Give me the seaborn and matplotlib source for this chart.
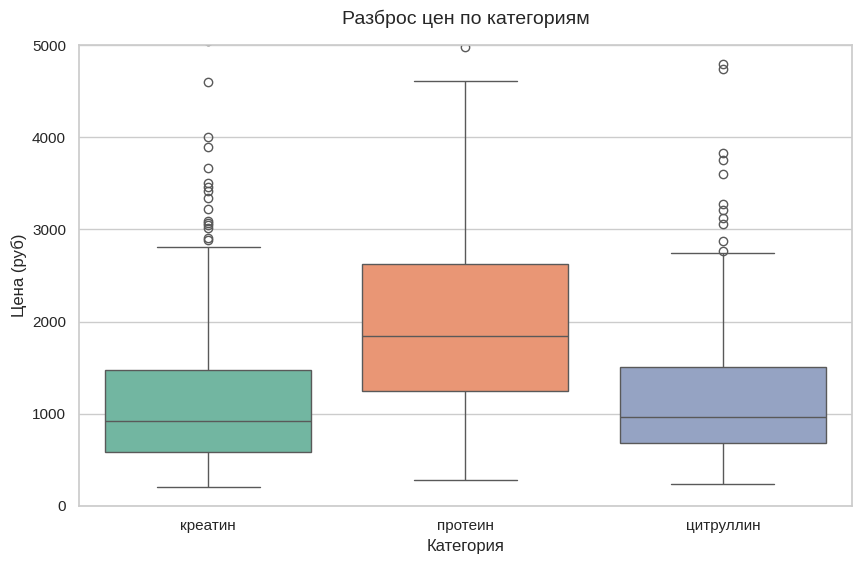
#!/usr/bin/env python3
"""
Box plot of prices per category.
"""

import pandas as pd
import matplotlib.pyplot as plt
import seaborn as sns

sns.set_theme(style="whitegrid")
plt.rcParams['font.family'] = ['Liberation Sans', 'DejaVu Sans']

categories = ['креатин', 'протеин', 'цитруллин']

creatine = [
    206,
    230, 260, 290, 315, 340, 365, 390, 410, 430, 450, 470, 490, 510, 530, 550, 570,
    588,
    605, 625, 645, 665, 685, 705, 725, 745, 765, 785, 805, 830, 855, 875, 895, 910,
    922,
    950, 985, 1020, 1050, 1085, 1120, 1150, 1185, 1220, 1255, 1290, 1320, 1355, 1390, 1420, 1455,
    1480,
    2812, 2890, 2910, 3020, 3050, 3065, 3095, 3220, 3340, 3415, 3460, 3500, 3665, 3895, 4005, 4595, 5050,
]

protein = [
    282,
    500, 750, 950, 1120,
    1247,
    1400, 1530, 1650, 1760,
    1844,
    1980, 2150, 2320, 2480,
    2625,
    3000, 3450, 4000, 4615, 4975,
]

citrulline = [
    239,
    270, 300, 335, 370, 405, 440, 475, 510, 545, 580, 615, 650,
    680,
    700, 720, 745, 770, 790, 810, 835, 860, 885, 910, 930, 950,
    965,
    1000, 1040, 1085, 1130, 1175, 1220, 1265, 1310, 1355, 1400, 1440, 1475,
    1508,
    2100, 2748, 2765, 2870, 3060, 3120, 3210, 3280, 3600, 3755, 3830, 4740, 4795,
]


def build_frame():
    rows = []
    for cat, vals in zip(categories, [creatine, protein, citrulline]):
        rows += [{'category': cat, 'price': v} for v in vals]
    return pd.DataFrame(rows)


df = build_frame()

fig, ax = plt.subplots(figsize=(8.62, 5.64), dpi=100)
fig.subplots_adjust(left=0.092, right=0.988, top=0.920, bottom=0.103)

sns.boxplot(data=df, x='category', y='price', hue='category',
            order=categories, palette='Set2', legend=False, ax=ax)

ax.set_ylim(0, 5000)
ax.set_title('Разброс цен по категориям', fontsize=14, pad=15)
ax.set_xlabel('Категория', fontsize=12)
ax.set_ylabel('Цена (руб)', fontsize=12)

plt.savefig('out.png', dpi=100)
